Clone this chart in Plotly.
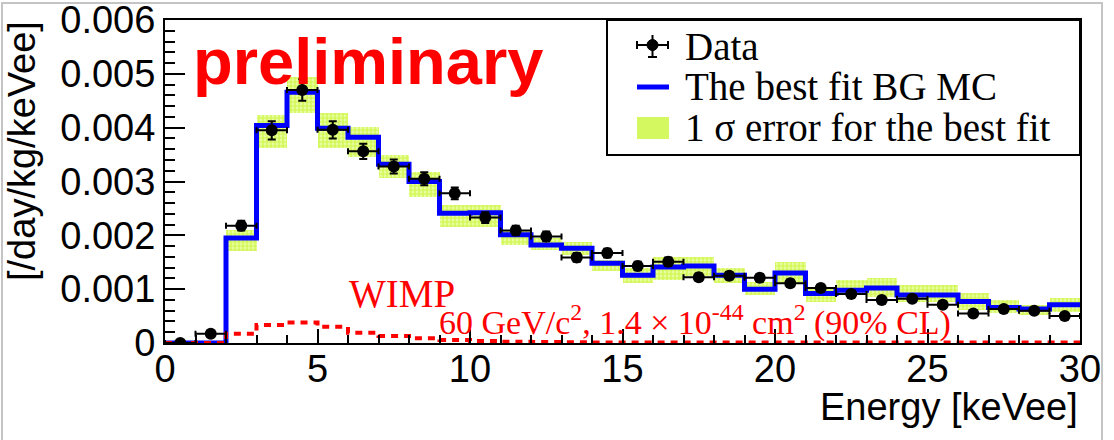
import plotly.graph_objects as go

# Energy bins [keVee]
bin_edges = [0, 1, 2, 3, 4, 5, 6, 7, 8, 9, 10, 11, 12, 13, 14, 15,
             16, 17, 18, 19, 20, 21, 22, 23, 24, 25, 26, 27, 28, 29, 30]
bin_centers = [0.5, 1.5, 2.5, 3.5, 4.5, 5.5, 6.5, 7.5, 8.5, 9.5,
               10.5, 11.5, 12.5, 13.5, 14.5, 15.5, 16.5, 17.5, 18.5, 19.5,
               20.5, 21.5, 22.5, 23.5, 24.5, 25.5, 26.5, 27.5, 28.5, 29.5]

# Data [/day/kg/keVee]
data_rate = [0.0, 0.00017, 0.00218, 0.00395, 0.0047, 0.00396, 0.00356, 0.00328, 0.00305, 0.00278,
             0.00233, 0.00209, 0.00198, 0.00159, 0.00167, 0.00143, 0.00151, 0.00122, 0.00125, 0.00121,
             0.00111, 0.00102, 0.00091, 0.0008, 0.00082, 0.00071, 0.00055, 0.00063, 0.0006, 0.0005]
data_err = [0.00002, 0.00005, 0.00009, 0.00017, 0.0002, 0.00016, 0.00014, 0.00013, 0.00012, 0.00011,
            0.0001, 0.00009, 0.00009, 0.00008, 0.00008, 0.00008, 0.00008, 0.00007, 0.00007, 0.00007,
            0.00007, 0.00006, 0.00006, 0.00006, 0.00006, 0.00006, 0.00005, 0.00005, 0.00005, 0.00005]

# best fit BG MC
bg_mc = [0.0, 0.0, 0.00195, 0.00404, 0.00466, 0.00399, 0.00382, 0.00332, 0.003, 0.00241,
         0.00242, 0.00201, 0.00182, 0.00176, 0.00148, 0.00126, 0.00141, 0.00143, 0.00126, 0.001,
         0.0013, 0.00092, 0.00098, 0.00102, 0.00089, 0.00089, 0.00077, 0.00066, 0.00063, 0.00071]

# 1 sigma band for the best fit
band_low = [0.0, 0.0, 0.0017, 0.00362, 0.00427, 0.00362, 0.00346, 0.00306, 0.00272, 0.00216,
            0.00216, 0.00182, 0.00173, 0.00164, 0.00133, 0.00111, 0.00117, 0.00124, 0.00111, 0.00089,
            0.0011, 0.00077, 0.00089, 0.00086, 0.00077, 0.00077, 0.00061, 0.00055, 0.00052, 0.00058]
band_high = [0.0, 0.0, 0.0021, 0.00424, 0.00495, 0.00427, 0.00402, 0.00349, 0.00318, 0.00256,
             0.00256, 0.0021, 0.00195, 0.00188, 0.00154, 0.00139, 0.0016, 0.0016, 0.00139, 0.00114,
             0.0015, 0.00102, 0.00117, 0.0012, 0.00108, 0.00108, 0.00092, 0.0008, 0.00071, 0.00083]

# WIMP 60 GeV, 1.4e-44 cm2 (90% CL)
wimp = [0.0, 0.0, 0.00017, 0.000335, 0.00038, 0.0003, 0.00019, 0.00013, 0.00009, 0.000056,
        0.000035, 0.000025, 0.00002, 0.000015, 0.00001, 0.00001, 0.00001, 0.00001, 0.00001, 0.00001,
        0.00001, 0.00001, 0.00001, 0.00001, 0.00001, 0.00001, 0.00001, 0.00001, 0.00001, 0.00001]

y_ticks = [0, 0.001, 0.002, 0.003, 0.004, 0.005, 0.006]
y_ticktext = ["0", "0.001", "0.002", "0.003", "0.004", "0.005", "0.006"]

SANS = "Liberation Sans, Arial, sans-serif"
SERIF = "Liberation Serif, Times New Roman, serif"

fig = go.Figure()

# error band
fig.add_trace(go.Bar(
    x=bin_centers,
    y=[h - l for h, l in zip(band_high, band_low)],
    base=band_low,
    width=1,
    marker=dict(color="#eaffa8", line=dict(width=0),
                pattern=dict(shape=".", fgcolor="#bcf000", bgcolor="#eeffb8", size=4, solidity=0.7)),
    showlegend=False,
))

# BG MC histogram
fig.add_trace(go.Scatter(
    x=bin_edges, y=bg_mc + [bg_mc[-1]],
    mode="lines", line=dict(shape="hv", color="#0000ff", width=5),
    showlegend=False,
))

# WIMP
fig.add_trace(go.Scatter(
    x=bin_edges, y=wimp + [wimp[-1]],
    mode="lines", line=dict(shape="hv", color="#ff0000", width=4, dash="7px,6px"),
    showlegend=False,
))

# data points
fig.add_trace(go.Scatter(
    x=bin_centers, y=data_rate,
    mode="markers",
    marker=dict(color="black", size=12),
    error_x=dict(type="constant", value=0.5, color="black", thickness=2, width=3),
    error_y=dict(type="data", array=data_err, color="black", thickness=2, width=4),
    showlegend=False,
))

# pixel -> paper helpers for decorations
def px(x):
    return (x - 165) / 915.0

def py(y):
    return (343 - y) / 323.0

shapes = [
    # screenshot frame
    dict(type="rect", xref="paper", yref="paper", x0=px(2), x1=px(1102), y0=py(470), y1=py(3),
         line=dict(color="#c4c4c4", width=2), layer="below"),
    # legend box
    dict(type="rect", xref="paper", yref="paper", x0=px(607), x1=1.0, y0=py(155), y1=1.0,
         line=dict(color="black", width=2), fillcolor="white"),
    # data symbol
    dict(type="line", xref="paper", yref="paper", x0=px(637), x1=px(668), y0=py(45), y1=py(45),
         line=dict(color="black", width=2)),
    dict(type="line", xref="paper", yref="paper", x0=px(652.5), x1=px(652.5), y0=py(35), y1=py(56),
         line=dict(color="black", width=2)),
    dict(type="line", xref="paper", yref="paper", x0=px(637), x1=px(637), y0=py(41), y1=py(49),
         line=dict(color="black", width=2)),
    dict(type="line", xref="paper", yref="paper", x0=px(668), x1=px(668), y0=py(41), y1=py(49),
         line=dict(color="black", width=2)),
    dict(type="line", xref="paper", yref="paper", x0=px(648), x1=px(657), y0=py(57), y1=py(57),
         line=dict(color="black", width=2)),
    dict(type="circle", xref="paper", yref="paper", x0=px(647), x1=px(658), y0=py(50.5), y1=py(39.5),
         fillcolor="black", line=dict(color="black", width=1)),
    # BG MC symbol
    dict(type="line", xref="paper", yref="paper", x0=px(637), x1=px(669), y0=py(87), y1=py(87),
         line=dict(color="#0000ff", width=5)),
    # band symbol
    dict(type="rect", xref="paper", yref="paper", x0=px(637), x1=px(669), y0=py(139), y1=py(117),
         fillcolor="#d4f860", line=dict(width=0)),
]

annotations = [
    dict(text="Data", x=px(683), y=py(46), xanchor="left", yanchor="middle"),
    dict(text="The best fit BG MC", x=px(683), y=py(87), xanchor="left", yanchor="middle"),
    dict(text="1 \u03c3 error for the best fit", x=px(683), y=py(128), xanchor="left", yanchor="middle"),
]
for a in annotations:
    a.update(xref="paper", yref="paper", showarrow=False, font=dict(family=SERIF, size=39, color="black"))

annotations += [
    dict(text="<b>preliminary</b>", x=px(191), y=py(62), xanchor="left", yanchor="middle",
         font=dict(family=SANS, size=65, color="#ff0000")),
    dict(text="WIMP", x=px(347), y=py(293), xanchor="left", yanchor="middle",
         font=dict(family=SERIF, size=39, color="#ff0000")),
    dict(text="60 GeV/c<sup>2</sup>, 1.4 \u00d7 10<sup>-44</sup> cm<sup>2</sup> (90% CL)",
         x=px(437), y=py(320), xanchor="left", yanchor="middle",
         font=dict(family=SERIF, size=34, color="#ff0000")),
    dict(text="Energy [keVee]", x=1.0, y=py(407), xanchor="right", yanchor="middle",
         font=dict(family=SANS, size=38, color="black")),
    dict(text="[/day/kg/keVee]", x=px(22), y=py(19), xanchor="center", yanchor="top", textangle=-90,
         font=dict(family=SANS, size=38, color="black")),
]
for a in annotations[3:]:
    a.update(xref="paper", yref="paper", showarrow=False)

fig.update_layout(
    width=1114, height=440,
    margin=dict(l=165, r=34, t=20, b=97, autoexpand=False),
    paper_bgcolor="white", plot_bgcolor="white",
    showlegend=False,
    bargap=0,
    shapes=shapes,
    annotations=annotations,
    font=dict(family=SANS, color="black"),
)

fig.update_xaxes(
    range=[0, 30], dtick=5, tick0=0,
    showgrid=False, zeroline=False, automargin=False,
    showline=True, linecolor="black", linewidth=2, mirror=True,
    ticks="inside", ticklen=14, tickwidth=2, tickcolor="black",
    minor=dict(dtick=1, ticks="inside", ticklen=8, tickwidth=2, tickcolor="black", showgrid=False),
    tickfont=dict(family=SANS, size=38, color="black"),
    ticklabelstandoff=-9, ticklabeloverflow="allow",
)
fig.update_yaxes(
    range=[0, 0.0060001], tickmode="array", tickvals=y_ticks, ticktext=y_ticktext,
    showgrid=False, zeroline=False, automargin=False,
    showline=True, linecolor="black", linewidth=2, mirror=True,
    ticks="inside", ticklen=20, tickwidth=2, tickcolor="black",
    minor=dict(dtick=0.0002, tick0=0, ticks="inside", ticklen=10, tickwidth=2, tickcolor="black", showgrid=False),
    tickfont=dict(family=SANS, size=38, color="black"),
    ticklabeloverflow="allow",
)

# drop the default page margin so the figure sits at the window origin
fig.write_html("out.html", config={"displayModeBar": False},
               post_script="document.body.style.margin='0';")
